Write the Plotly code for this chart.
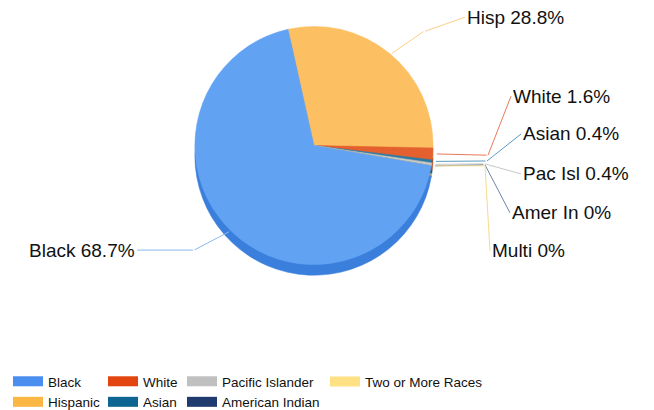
import math
import plotly.graph_objects as go

# ---- data ----
categories = ["Hispanic", "White", "Asian", "Pacific Islander",
              "American Indian", "Two or More Races", "Black"]
short_labels = ["Hisp", "White", "Asian", "Pac Isl", "Amer In", "Multi", "Black"]
percentages = [28.8, 1.6, 0.4, 0.4, 0, 0, 68.7]

legend_columns = [
    ["Black", "Hispanic"],
    ["White", "Asian"],
    ["Pacific Islander", "American Indian"],
    ["Two or More Races"],
]

# ---- styles ----
top_colors = ["#fcbf62", "#e5602f", "#2a7aa6", "#c8c8c8", "#2b4a80", "#fde48e", "#62a2f2"]
side_colors = ["#d99a3a", "#b84a22", "#1d5a7c", "#9a9a9a", "#1c335a", "#d8bd62", "#3a7fdc"]
leader_colors = ["#fcd08a", "#e8795a", "#5b9bbf", "#c8c8c8", "#6f85a8", "#f5dc8a", "#8ab8f0"]
legend_colors = {
    "Black": "#4a8ef0", "Hispanic": "#fbb744", "White": "#e2450f",
    "Asian": "#0e6591", "Pacific Islander": "#c0c0c0",
    "American Indian": "#1e3a6e", "Two or More Races": "#fde184",
}

W, H = 654, 410
PAGE_OFF = 8           # default page margin around the figure div
CX, CY, R = 314, 150, 123   # pie centre / radius in screen pixels
DEPTH = 11
ROTATION = -12.6
FONT = "Liberation Sans, Arial, sans-serif"

# label anchor (screen px) and the elbow of each leader line
label_pos = [(465, 18, "left"), (511, 101, "left"), (521, 139, "left"),
             (521, 179, "left"), (510, 218, "left"), (490, 256, "left"),
             (137, 258, "right")]
elbow_pos = [(425, 32), (488, 160), (487, 166), (485, 169),
             (485, 170), (485, 171), (193, 258)]
legend_left = [8, 103, 182, 325]
legend_top = 378


def px(x):
    return (x - PAGE_OFF) / W


def py(y):
    return 1 - (y - PAGE_OFF) / H


dom_x = [px(CX - R), px(CX + R)]
dom_y = [py(CY + R), py(CY - R)]
dom_y_side = [py(CY + R + DEPTH), py(CY - R + DEPTH)]

fig = go.Figure()

# depth (side) of the pie
fig.add_trace(go.Pie(
    labels=categories, values=percentages, sort=False, direction="clockwise",
    rotation=ROTATION, domain=dict(x=dom_x, y=dom_y_side),
    marker=dict(colors=side_colors, line=dict(color=side_colors, width=0.5)),
    textinfo="none", hoverinfo="skip", showlegend=False,
))
# top surface
fig.add_trace(go.Pie(
    labels=categories, values=percentages, sort=False, direction="clockwise",
    rotation=ROTATION, domain=dict(x=dom_x, y=dom_y),
    marker=dict(colors=top_colors, line=dict(color=top_colors, width=0.5)),
    textinfo="none", showlegend=False,
))

# labels with elbowed leader lines
total = sum(percentages)
cum = 0.0
annotations = []
for i, v in enumerate(percentages):
    mid = math.radians(ROTATION + (cum + v / 2) / total * 360)
    cum += v
    hx = CX + R * math.sin(mid)
    hy = CY - R * math.cos(mid)
    ex, ey = elbow_pos[i]
    lx, ly, anchor = label_pos[i]
    # segment: slice edge -> elbow
    annotations.append(dict(
        x=px(hx), y=py(hy), xref="paper", yref="paper",
        ax=ex - hx, ay=ey - hy, axref="pixel", ayref="pixel",
        text="", showarrow=True, arrowhead=0, arrowwidth=1,
        arrowcolor=leader_colors[i], standoff=0, startstandoff=0,
    ))
    # segment: elbow -> label, with the label text
    annotations.append(dict(
        x=px(ex), y=py(ey), xref="paper", yref="paper",
        ax=lx - ex, ay=ly - ey, axref="pixel", ayref="pixel",
        text=f"{short_labels[i]} {percentages[i]:g}%",
        showarrow=True, arrowhead=0, arrowwidth=1, arrowcolor=leader_colors[i],
        standoff=0, startstandoff=0,
        xanchor=anchor, yanchor="middle",
        font=dict(family=FONT, size=19, color="#111111"),
    ))

# legend entries
for ci, col in enumerate(legend_columns):
    lg = "legend" if ci == 0 else f"legend{ci + 1}"
    for name in col:
        fig.add_trace(go.Scatter(
            x=[None], y=[None], mode="lines", name=name,
            line=dict(color=legend_colors[name], width=12),
            legend=lg, hoverinfo="skip",
        ))

legend_common = dict(orientation="v", xanchor="left", yanchor="top",
                     y=py(legend_top), bgcolor="rgba(0,0,0,0)",
                     font=dict(family=FONT, size=13.5, color="#111111"),
                     tracegroupgap=0)
layout_legends = {}
for ci, L in enumerate(legend_left):
    key = "legend" if ci == 0 else f"legend{ci + 1}"
    layout_legends[key] = dict(legend_common, x=max(px(L), 0))

fig.update_layout(
    width=W, height=H,
    margin=dict(l=0, r=0, t=0, b=0),
    paper_bgcolor="white", plot_bgcolor="white",
    xaxis=dict(visible=False), yaxis=dict(visible=False),
    annotations=annotations,
    font=dict(family=FONT),
    **layout_legends,
)

fig.write_html("out.html")
